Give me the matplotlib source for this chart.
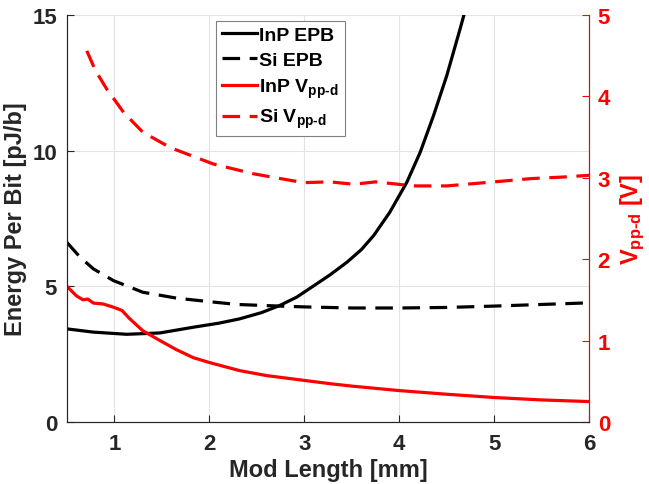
import numpy as np
import matplotlib
matplotlib.use("Agg")
import matplotlib.pyplot as plt

plt.rcParams['font.family'] = ['Liberation Sans', 'DejaVu Sans']
plt.rcParams['font.weight'] = 'bold'
plt.rcParams['mathtext.fontset'] = 'custom'
plt.rcParams['mathtext.rm'] = 'Liberation Sans:bold'
plt.rcParams['mathtext.bf'] = 'Liberation Sans:bold'
plt.rcParams['mathtext.it'] = 'Liberation Sans:bold'

# InP energy per bit [pJ/b]
inp_epb_x = [0.5, 0.78, 1.13, 1.48, 1.83, 2.1, 2.32, 2.55, 2.74, 2.92, 3.1, 3.27, 3.45,
             3.6, 3.73, 3.9, 4.08, 4.22, 4.36, 4.5, 4.64, 4.72]
inp_epb_y = [3.43, 3.31, 3.23, 3.28, 3.49, 3.64, 3.8, 4.03, 4.29, 4.6, 5.02, 5.42, 5.89,
             6.35, 6.87, 7.73, 8.84, 9.94, 11.29, 12.77, 14.49, 15.5]

# Si energy per bit [pJ/b]
si_epb_x = [0.5, 0.64, 0.78, 0.99, 1.3, 1.66, 2.01, 2.29, 2.74, 3.0, 3.5, 4.0, 4.5, 5.0,
            5.5, 6.0]
si_epb_y = [6.62, 6.07, 5.64, 5.21, 4.78, 4.56, 4.43, 4.33, 4.27, 4.24, 4.2, 4.2, 4.22,
            4.27, 4.33, 4.39]

# InP Vpp-d [V]
inp_v_x = [0.5, 0.6, 0.67, 0.72, 0.78, 0.88, 0.99, 1.08, 1.16, 1.3, 1.48, 1.65, 1.83,
           2.0, 2.32, 2.6, 3.0, 3.27, 3.5, 4.0, 4.5, 5.0, 5.5, 6.0]
inp_v_y = [1.667, 1.55, 1.5, 1.51, 1.46, 1.45, 1.41, 1.37, 1.27, 1.12, 1.0, 0.89, 0.79,
           0.73, 0.63, 0.57, 0.51, 0.47, 0.44, 0.385, 0.34, 0.30, 0.27, 0.25]

# Si Vpp-d [V]
si_v_x = [0.71, 0.8, 0.92, 1.1, 1.3, 1.59, 2.04, 2.46, 2.99, 3.27, 3.52, 3.75, 4.15,
          4.5, 5.0, 5.39, 5.74, 6.0]
si_v_y = [4.56, 4.32, 4.09, 3.8, 3.56, 3.37, 3.17, 3.05, 2.94, 2.95, 2.92, 2.95, 2.90,
          2.90, 2.95, 2.99, 3.01, 3.03]

x_ticks = [1, 2, 3, 4, 5, 6]
left_ticks = [0, 5, 10, 15]
right_ticks = [0, 1, 2, 3, 4, 5]

tick_col = '#262626'
lw = 2.3
dash = (5.5, 3)

fig = plt.figure(figsize=(6.49, 4.85), dpi=100)
ax = fig.add_axes([0.103, 0.128, 0.805, 0.839])
ax2 = ax.twinx()

l1, = ax.plot(inp_epb_x, inp_epb_y, color='black', lw=lw, label='InP EPB')
l2, = ax.plot(si_epb_x, si_epb_y, color='black', lw=lw, dashes=dash, label='Si EPB')
l3, = ax2.plot(inp_v_x, inp_v_y, color='red', lw=lw, label=r'InP V$_{pp\text{-}d}$')
l4, = ax2.plot(si_v_x, si_v_y, color='red', lw=lw, dashes=dash, label=r'Si V$_{pp\text{-}d}$')

ax.set_xlim(0.5, 6)
ax.set_ylim(0, 15)
ax2.set_ylim(0, 5)
ax.set_xticks(x_ticks)
ax.set_yticks(left_ticks)
ax2.set_yticks(right_ticks)

ax.grid(True, color='#e3e3e3', lw=0.8)
ax.set_axisbelow(True)

for a in (ax, ax2):
    a.tick_params(direction='in', length=5, width=0.8, labelsize=16)
    for s in a.spines.values():
        s.set_color(tick_col)
        s.set_linewidth(0.8)
ax.tick_params(axis='x', pad=8)
ax.tick_params(axis='y', pad=7)
ax2.tick_params(axis='y', pad=6)
ax.tick_params(colors=tick_col)
ax2.spines['right'].set_color('red')
ax2.tick_params(axis='y', colors='red')
ax.spines['top'].set_visible(False)
ax2.spines['top'].set_visible(False)

ax.set_xlabel('Mod Length [mm]', fontsize=17, fontweight='bold', color=tick_col, labelpad=3)
ax.set_ylabel('Energy Per Bit [pJ/b]', fontsize=17, fontweight='bold', color=tick_col, labelpad=4)
ax2.set_ylabel(r'V$_{pp\text{-}d}$ [V]', fontsize=17, fontweight='bold', color='red', labelpad=6)

leg = ax2.legend(handles=[l1, l2, l3, l4], loc='upper left', bbox_to_anchor=(0.285, 0.986),
                 borderaxespad=0, fancybox=False, edgecolor='#808080', framealpha=1,
                 fontsize=14, handlelength=1.8, handletextpad=0.15, labelspacing=0.38,
                 borderpad=0.3)
leg.get_frame().set_linewidth(0.8)

fig.savefig('out.png', dpi=100)
